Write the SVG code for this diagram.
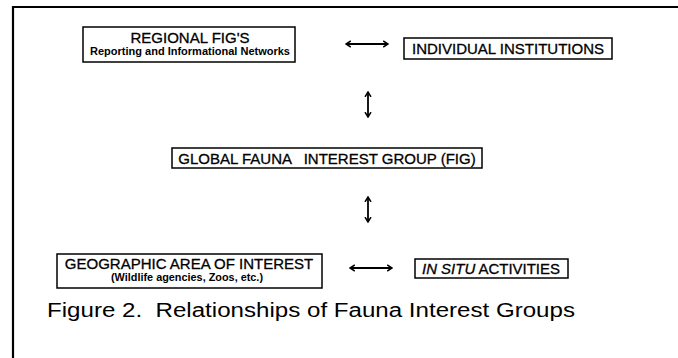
<svg xmlns="http://www.w3.org/2000/svg" width="678" height="358" viewBox="0 0 678 358">
<style>
.box{fill:#fff;stroke:#000;stroke-width:1.5}
.t{font-family:"Liberation Sans",Arial,sans-serif;fill:#000;text-anchor:middle}
.big{font-size:15px;stroke:#000;stroke-width:0.3}
.small{font-size:10px;font-weight:bold}
.cn{stroke:#000;stroke-width:1.8;fill:none}
.frame{stroke:#000;stroke-width:2.2;fill:none}
</style>
<defs>
<marker id="ah" viewBox="0 0 10 12" refX="9" refY="6" markerWidth="6" markerHeight="9" orient="auto-start-reverse" markerUnits="userSpaceOnUse">
<path d="M1,1 L9,6 L1,11" fill="none" stroke="#000" stroke-width="2.6"/>
</marker>
</defs>
<rect width="678" height="358" fill="#fff"/>
<path class="frame" d="M13,358 V7 H678"/>
<g id="regional">
<rect class="box" x="83" y="27" width="212" height="35"/>
<text class="t big" x="190" y="43">REGIONAL FIG'S</text>
<text class="t small" x="190" y="55" textLength="200" lengthAdjust="spacingAndGlyphs">Reporting and Informational Networks</text>
</g>
<g id="individual">
<rect class="box" x="404" y="38" width="208" height="21"/>
<text class="t big" x="508" y="54">INDIVIDUAL INSTITUTIONS</text>
</g>
<g id="global">
<rect class="box" x="172" y="148" width="310" height="20"/>
<text class="t big" x="327" y="164" xml:space="preserve">GLOBAL FAUNA   INTEREST GROUP (FIG)</text>
</g>
<g id="geographic">
<rect class="box" x="57" y="254" width="265" height="34"/>
<text class="t big" x="189" y="269">GEOGRAPHIC AREA OF INTEREST</text>
<text class="t small" x="187" y="281" textLength="152" lengthAdjust="spacingAndGlyphs">(Wildlife agencies, Zoos, etc.)</text>
</g>
<g id="insitu">
<rect class="box" x="415" y="259" width="153" height="19"/>
<text class="t big" x="491" y="274" textLength="138" lengthAdjust="spacingAndGlyphs"><tspan font-style="italic">IN SITU</tspan> ACTIVITIES</text>
</g>
<g id="connectors">
<line class="cn" x1="346" y1="44" x2="388" y2="44" marker-start="url(#ah)" marker-end="url(#ah)"/>
<line class="cn" x1="368" y1="92" x2="368" y2="117" marker-start="url(#ah)" marker-end="url(#ah)"/>
<line class="cn" x1="368" y1="197" x2="368" y2="222" marker-start="url(#ah)" marker-end="url(#ah)"/>
<line class="cn" x1="350" y1="268" x2="392" y2="268" marker-start="url(#ah)" marker-end="url(#ah)"/>
</g>
<text class="t" x="47" y="317" style="text-anchor:start;font-size:20px" xml:space="preserve" textLength="528" lengthAdjust="spacingAndGlyphs">Figure 2.  Relationships of Fauna Interest Groups</text>
</svg>
